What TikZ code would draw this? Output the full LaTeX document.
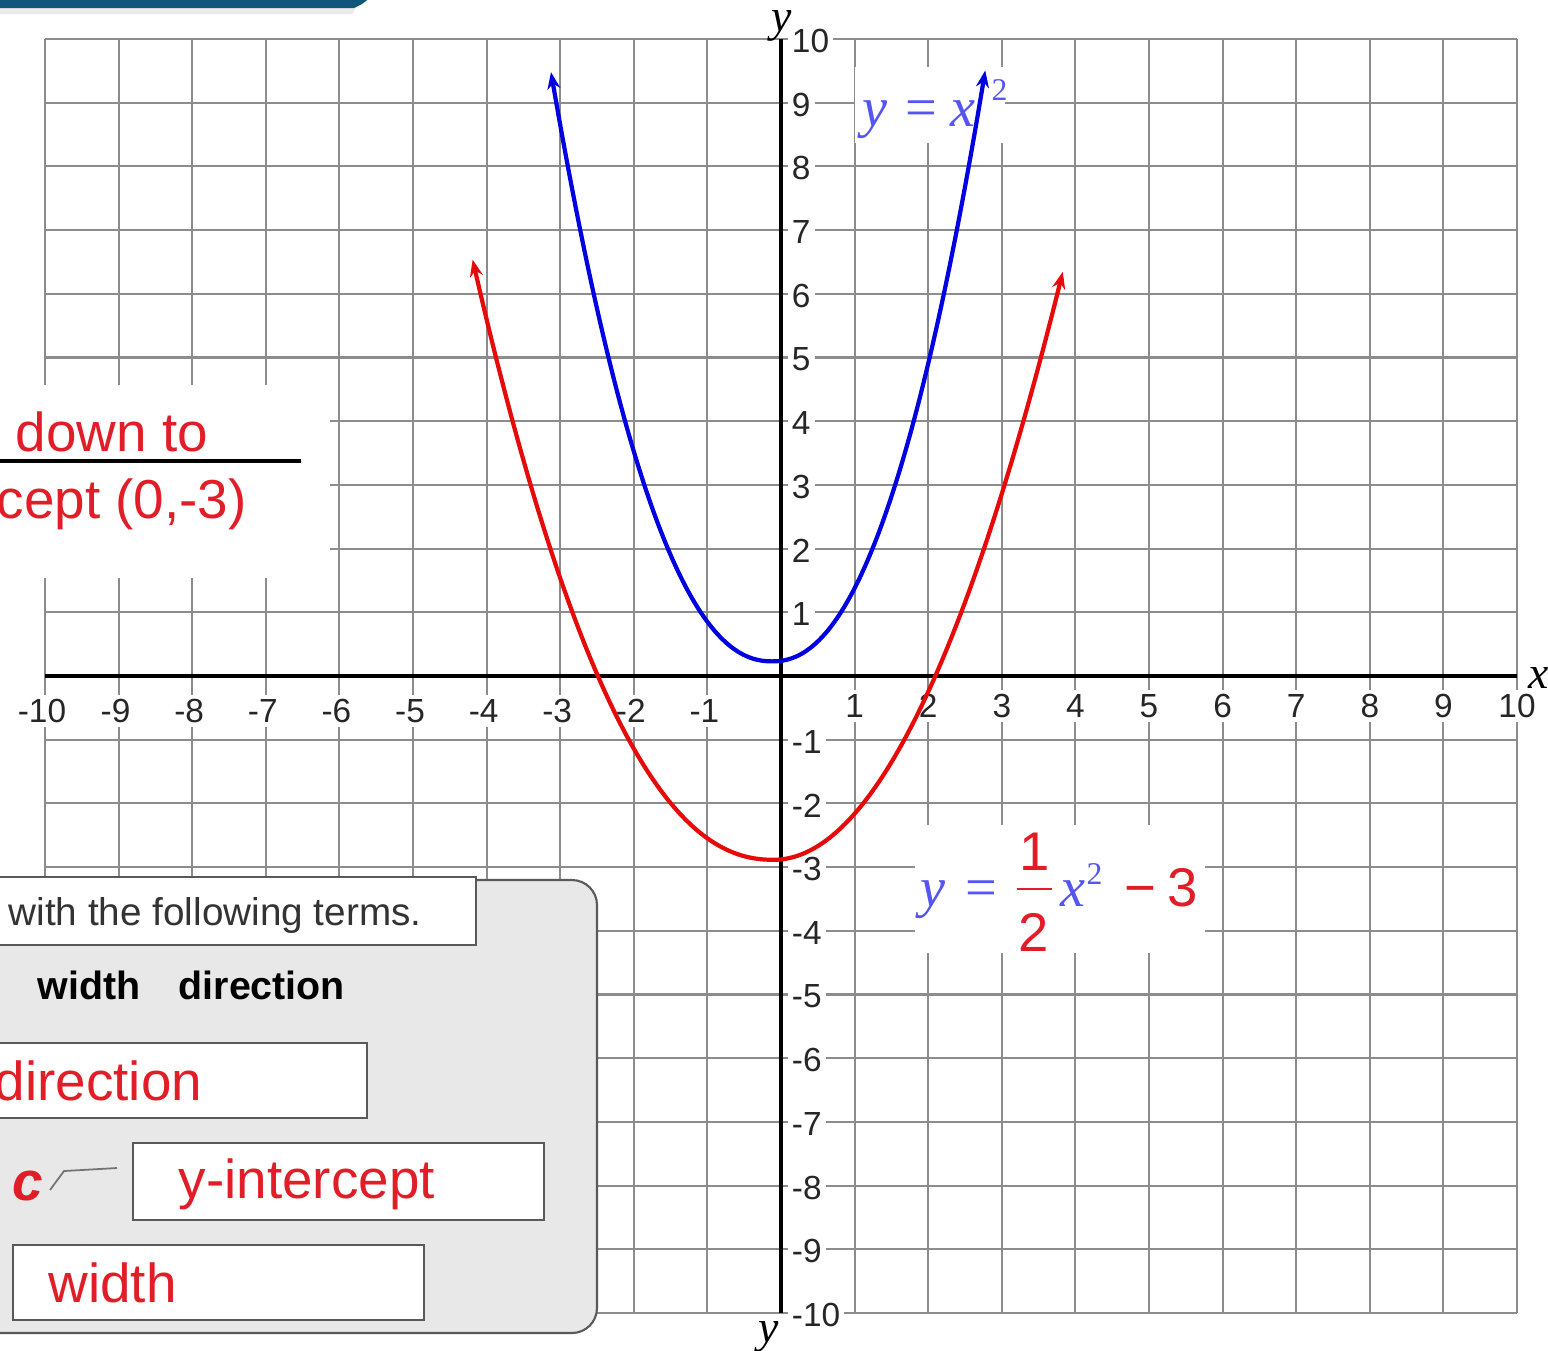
\documentclass[tikz,border=0pt]{standalone}
\usepackage{fontspec}
\setmainfont{Liberation Sans}
\newfontfamily\tms{Liberation Serif}
\usetikzlibrary{arrows.meta}
\definecolor{gridc}{RGB}{140,140,140}
\definecolor{cblue}{RGB}{0,0,225}
\definecolor{cred}{RGB}{230,10,10}
\definecolor{lblue}{RGB}{85,85,240}
\definecolor{tred}{RGB}{225,30,40}
\definecolor{panelc}{RGB}{232,232,232}
\definecolor{bannerc}{RGB}{16,86,122}
\begin{document}
\begin{tikzpicture}[x=0.01cm,y=-0.01cm,
  gridline/.style={draw=gridc,line width=0.6pt},
  axisline/.style={draw=black,line width=1.3pt},
  ticklab/.style={font=\fontsize{9.5}{11}\selectfont,text=black!85,fill=white,inner sep=1.2pt},
  curveline/.style={line width=1.2pt,{Stealth[length=0.17cm,width=0.13cm]}-{Stealth[length=0.17cm,width=0.13cm]}},
  whitebox/.style={fill=white,draw=none},
  termbox/.style={fill=white,draw=black!65,line width=0.6pt},
  redtxt/.style={text=tred,font=\fontsize{15.6}{18}\selectfont,inner sep=0pt,anchor=base west},
  eqit/.style={text=lblue,font=\tms\itshape\fontsize{16}{18}\selectfont,inner sep=0pt,anchor=base west},
  eqrm/.style={text=lblue,font=\tms\fontsize{16}{18}\selectfont,inner sep=0pt,anchor=base west},
  eqnum/.style={text=tred,font=\fontsize{15.5}{18}\selectfont,inner sep=0pt},
  axlab/.style={font=\tms\itshape\fontsize{13}{15}\selectfont,inner sep=0pt,anchor=base}]
\path[use as bounding box] (0,0) rectangle (1548,1350);
\fill[white] (0,0) rectangle (1548,1350);
% grid
\foreach \i in {-10,...,10}{
  \pgfmathsetmacro\gx{781+73.6*\i}
  \draw[gridline] (\gx,39) -- (\gx,1313);
  \pgfmathsetmacro\gy{676-63.7*\i}
  \draw[gridline] (45,\gy) -- (1517,\gy);
}
% white label boxes covering the grid
\path[whitebox] (-5,385) rectangle (330,578);
\path[whitebox] (855,67) rectangle (1005,143);
\path[whitebox] (915,825) rectangle (1205,953);
% tick labels
\foreach \i in {-10,...,-1}{
  \pgfmathsetmacro\gx{781+73.6*\i}
  \node[ticklab] (xl\i) at (\gx-3,711) {\i};
}
\foreach \i in {1,...,10}{
  \pgfmathsetmacro\gx{781+73.6*\i}
  \node[ticklab] (xl\i) at (\gx,706) {\i};
}
\foreach \j in {-10,...,-1,1,2,...,10}{
  \pgfmathsetmacro\gy{676-63.7*\j}
  \node[ticklab,anchor=west] (yl\j) at (787,\gy+2) {\j};
}
% axes
\draw[axisline] (45,676) -- (1517,676);
\draw[axisline] (781,39) -- (781,1313);
\node[axlab] (xname) at (1539,688) {x};
\node[axlab] (ytop) at (782,31) {y};
\node[axlab] (ybot) at (769,1342) {y};
% equation labels
\node[eqit] (b1) at (862,126) {y};
\node[eqrm] (b2) at (905,126) {=};
\node[eqit] (b3) at (950,126) {x};
\node[text=lblue,font=\tms\fontsize{9}{10}\selectfont,inner sep=0pt,anchor=base west] (b4) at (991,100) {2};
\node[eqit] (r1) at (920,906) {y};
\node[eqrm] (r2) at (965,906) {=};
\node[eqnum] (r3) at (1035,852) {1};
\draw[tred,line width=0.8pt] (1017,889) -- (1052,889);
\node[eqnum] (r4) at (1034,932) {2};
\node[eqit] (r5) at (1060,906) {x};
\node[text=lblue,font=\tms\fontsize{9}{10}\selectfont,inner sep=0pt,anchor=base west] (r6) at (1086,884) {2};
\node[eqnum,anchor=base west] (r7) at (1124,906) {\symbol{"2212}};
\node[eqnum,anchor=base west] (r8) at (1167,906) {3};
% curves (grid units converted to pixels)
\draw[curveline,cblue] plot[domain=-3.125:2.775,samples=150,smooth]
  ({781+73.6*\x},{676-63.7*(0.23+ifthenelse(\x<-0.12,0.822,0.895)*pow(abs(\x+0.12)+0.0001,2.2))});
\draw[curveline,cred] plot[domain=-4.19:3.83,samples=150,smooth]
  ({781+73.6*\x},{676-63.7*(-2.885+ifthenelse(\x<-0.1,0.425*pow(abs(\x+0.1)+0.0001,2.2),0.598*pow(abs(\x+0.1)+0.0001,2)))});
% left annotation
\node[redtxt] (down) at (15,451) {down to};
\draw[black,line width=0.9pt] (-2,461) -- (301,461);
\node[redtxt] (cept) at (-4,518) {cept (0,-3)};
% panel
\draw[fill=panelc,draw=black!65,line width=0.6pt,rounded corners=0.25cm] (-30,880) rectangle (597,1333);
\draw[termbox] (-10,877) rectangle (476,945);
\node[anchor=base west,inner sep=0pt,text=black!80,font=\fontsize{11}{13}\selectfont] (terms) at (8,925) {with the following terms.};
\node[anchor=base west,inner sep=0pt,font=\bfseries\fontsize{11.2}{13}\selectfont] (wordw) at (37,999) {width};
\node[anchor=base west,inner sep=0pt,font=\bfseries\fontsize{11.2}{13}\selectfont] (wordd) at (178,999) {direction};
\draw[termbox] (-10,1043) rectangle (367,1118);
\node[redtxt] (dirbox) at (-6,1100) {direction};
\draw[termbox] (133,1143) rectangle (544,1220);
\node[redtxt] (yint) at (178,1198) {y-intercept};
\node[redtxt,font=\bfseries\itshape\fontsize{15.6}{18}\selectfont] (cc) at (12,1200) {c};
\coordinate (cstart) at (50,1190);
\coordinate (cend) at (117,1168);
\draw[black!55,line width=0.5pt] (cstart) -- (64,1171) -- (cend);
\draw[termbox] (13,1245) rectangle (424,1320);
\node[redtxt] (wbox) at (48,1302) {width};
% banner
\fill[black!8] (0,6) -- (358,6) -- (352,14) -- (0,14) -- cycle;
\fill[bannerc] (0,-2) -- (370,-2) -- (362,4) -- (354,8) -- (0,8) -- cycle;
\end{tikzpicture}
\end{document}
